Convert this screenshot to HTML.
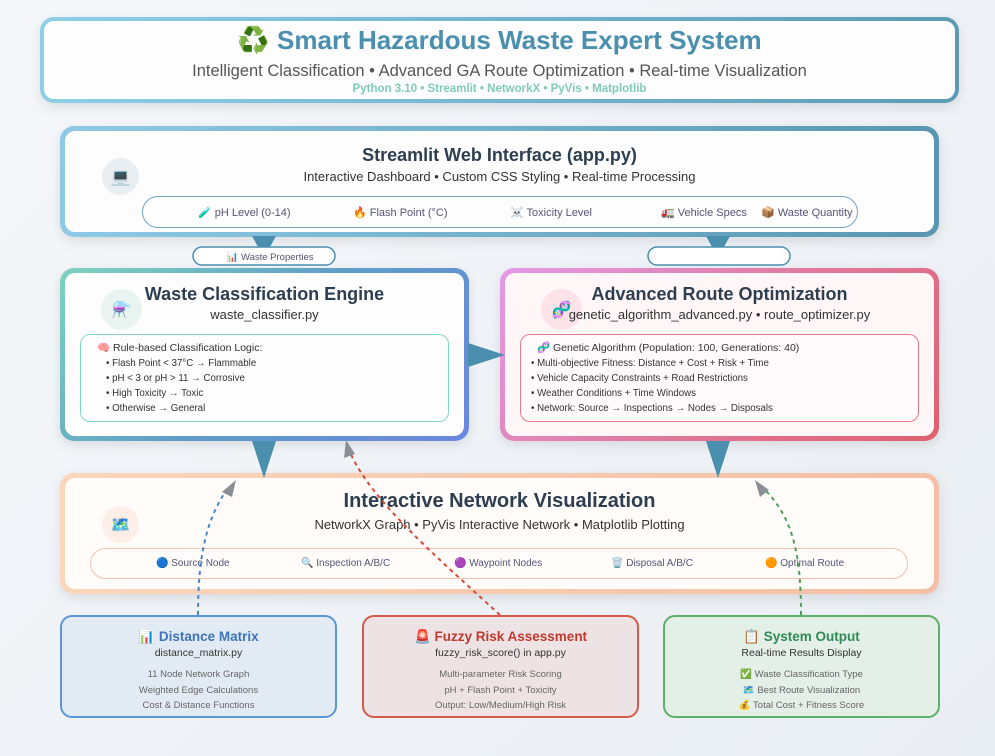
<!DOCTYPE html>
<html><head><meta charset="utf-8"><style>
*{box-sizing:border-box;margin:0;padding:0}
body{width:995px;height:756px;background:linear-gradient(135deg,#f5f7fa,#e9eef3);font-family:"Liberation Sans","Noto Sans CJK SC",sans-serif;position:relative;overflow:hidden;color:#2c3e50}
.b{position:absolute;border-radius:14px;padding:5px;box-shadow:0 4px 12px rgba(0,0,0,.1)}
.in{width:100%;height:100%;border-radius:10px;background:#fdfdfe;position:relative}
.t{position:absolute;left:0;right:0;text-align:center}
.pill{position:absolute;border-radius:16px;border:1.5px solid;font-size:10px;color:#557;display:flex;align-items:center}
.circ{position:absolute;border-radius:50%;display:flex;align-items:center;justify-content:center;font-size:16px}
.list{position:absolute;border-radius:10px;border:1.5px solid;font-size:9.7px;line-height:15px;padding:6px 0 0 0;color:#333}
.bot{position:absolute;border:2px solid;border-radius:12px;text-align:center;top:615px;height:103px;width:277px}
.bot .h{font-size:13.5px;font-weight:bold;margin-top:12px}
.bot .s{font-size:10.5px;color:#333;margin-top:2px}
.bot .l{font-size:9.5px;color:#666;line-height:15.5px;margin-top:8px}
</style></head><body>
<div class="b" style="left:40px;top:17px;width:919px;height:86px;background:linear-gradient(90deg,#8ecfe6,#5b9bb5);padding:4px">
 <div class="in">
  <div class="t" style="top:4px;font-size:26px;font-weight:bold;color:#4a8fad">♻️ Smart Hazardous Waste Expert System</div>
  <div class="t" style="top:41px;font-size:16.5px;color:#555">Intelligent Classification • Advanced GA Route Optimization • Real-time Visualization</div>
  <div class="t" style="top:62px;font-size:11.5px;font-weight:bold;color:#7ecbb9">Python 3.10 • Streamlit • NetworkX • PyVis • Matplotlib</div>
 </div></div>

<div class="b" style="left:60px;top:126px;width:879px;height:111px;background:linear-gradient(90deg,#8ecae6,#5896b2)">
 <div class="in">
  <div class="circ" style="left:37px;top:27px;width:37px;height:37px;background:#e8eef2">💻</div>
  <div class="t" style="top:14px;font-size:18px;font-weight:bold">Streamlit Web Interface (app.py)</div>
  <div class="t" style="top:38px;font-size:13px;color:#333">Interactive Dashboard • Custom CSS Styling • Real-time Processing</div>
  <div class="pill" style="left:77px;top:65px;width:716px;height:32px;border-color:#6fa6c0;font-size:11px">
   <span style="position:absolute;left:55px">🧪 pH Level (0-14)</span>
   <span style="position:absolute;left:210px">🔥 Flash Point (°C)</span>
   <span style="position:absolute;left:367px">☠️ Toxicity Level</span>
   <span style="position:absolute;left:518px">🚛 Vehicle Specs</span>
   <span style="position:absolute;left:618px">📦 Waste Quantity</span>
  </div>
 </div></div>

<div class="b" style="left:60px;top:268px;width:409px;height:173px;background:linear-gradient(135deg,#7fd3c0,#5e9cc6,#6a87e0)">
 <div class="in">
  <div class="circ" style="left:36px;top:16px;width:41px;height:41px;background:#e9f4f1">⚗️</div>
  <div class="t" style="top:11px;font-size:18px;font-weight:bold">Waste Classification Engine</div>
  <div class="t" style="top:34px;font-size:13px;color:#333">waste_classifier.py</div>
  <div class="list" style="left:15px;top:61px;width:369px;height:88px;border-color:#86d6c5">
   <div style="padding-left:16px;font-size:10.5px">🧠 Rule-based Classification Logic:</div>
   <div style="padding-left:25px">• Flash Point &lt; 37°C → Flammable</div>
   <div style="padding-left:25px">• pH &lt; 3 or pH &gt; 11 → Corrosive</div>
   <div style="padding-left:25px">• High Toxicity → Toxic</div>
   <div style="padding-left:25px">• Otherwise → General</div>
  </div>
 </div></div>

<div class="b" style="left:500px;top:268px;width:439px;height:173px;background:linear-gradient(135deg,#e59ae8,#e07aa0,#e0606e)">
 <div class="in" style="background:#fff6f8">
  <div class="circ" style="left:36px;top:16px;width:41px;height:41px;background:#fbe3e8">🧬</div>
  <div class="t" style="top:11px;font-size:18px;font-weight:bold">Advanced Route Optimization</div>
  <div class="t" style="top:34px;font-size:13px;color:#333">genetic_algorithm_advanced.py • route_optimizer.py</div>
  <div class="list" style="left:15px;top:61px;width:399px;height:88px;border-color:#e77a8a;background:#fffafb">
   <div style="padding-left:16px;font-size:10.5px">🧬 Genetic Algorithm (Population: 100, Generations: 40)</div>
   <div style="padding-left:10px">• Multi-objective Fitness: Distance + Cost + Risk + Time</div>
   <div style="padding-left:10px">• Vehicle Capacity Constraints + Road Restrictions</div>
   <div style="padding-left:10px">• Weather Conditions + Time Windows</div>
   <div style="padding-left:10px">• Network: Source → Inspections → Nodes → Disposals</div>
  </div>
 </div></div>

<div class="b" style="left:60px;top:473px;width:879px;height:121px;background:linear-gradient(90deg,#fbd6bb,#f4bfa6)">
 <div class="in" style="background:#fffcfa">
  <div class="circ" style="left:37px;top:28px;width:37px;height:37px;background:#fdeee8">🗺️</div>
  <div class="t" style="top:12px;font-size:20px;font-weight:bold">Interactive Network Visualization</div>
  <div class="t" style="top:39px;font-size:13px;color:#333">NetworkX Graph • PyVis Interactive Network • Matplotlib Plotting</div>
  <div class="pill" style="left:25px;top:70px;width:818px;height:31px;border-color:#f3c3ae">
   <span style="position:absolute;left:65px">🔵 Source Node</span>
   <span style="position:absolute;left:210px">🔍 Inspection A/B/C</span>
   <span style="position:absolute;left:363px">🟣 Waypoint Nodes</span>
   <span style="position:absolute;left:520px">🗑️ Disposal A/B/C</span>
   <span style="position:absolute;left:674px">🟠 Optimal Route</span>
  </div>
 </div></div>

<div class="bot" style="left:60px;border-color:#5a96d8;background:#e2ebf4"><div class="h" style="color:#3e74b8">📊 Distance Matrix</div><div class="s">distance_matrix.py</div><div class="l">11 Node Network Graph<br>Weighted Edge Calculations<br>Cost &amp; Distance Functions</div></div>
<div class="bot" style="left:362px;border-color:#d65a4a;background:#ede3e4"><div class="h" style="color:#c0392b">🚨 Fuzzy Risk Assessment</div><div class="s">fuzzy_risk_score() in app.py</div><div class="l">Multi-parameter Risk Scoring<br>pH + Flash Point + Toxicity<br>Output: Low/Medium/High Risk</div></div>
<div class="bot" style="left:663px;border-color:#5cb068;background:#e3efe7"><div class="h" style="color:#2e8b57">📋 System Output</div><div class="s">Real-time Results Display</div><div class="l">✅ Waste Classification Type<br>🗺️ Best Route Visualization<br>💰 Total Cost + Fitness Score</div></div>

<svg width="995" height="756" style="position:absolute;left:0;top:0;pointer-events:none">
 <g fill="#4a8fad">
  <polygon points="252,236 276,236 264,258"/><polygon points="706,236 730,236 718,258"/>
  <polygon points="252,441 276,441 264,478"/><polygon points="706,441 730,441 718,478"/>
  <polygon points="468,343 468,367 505,355"/>
 </g>
 <rect x="193" y="247" width="142" height="18" rx="9" fill="#fff" stroke="#4a8fad" stroke-width="1.5"/>
 <text x="270" y="260" font-size="9.5" text-anchor="middle" fill="#557" font-family="Liberation Sans,sans-serif">📊 Waste Properties</text>
 <rect x="648" y="247" width="142" height="18" rx="9" fill="#fff" stroke="#4a8fad" stroke-width="1.5"/>
 <g fill="none" stroke-width="2" stroke-dasharray="4,4">
  <path d="M198,615 C198,560 205,520 228,488" stroke="#4a86d0"/>
  <path d="M500,615 C440,560 370,500 350,452" stroke="#d64a3a"/>
  <path d="M801,615 C801,560 795,520 765,490" stroke="#4aa05a"/>
 </g>
 <g fill="#8a8f95">
  <polygon points="236,480 222,492 232,497"/>
  <polygon points="346,440 344,458 355,454"/>
  <polygon points="755,480 760,497 769,490"/>
 </g>
</svg>
</body></html>
